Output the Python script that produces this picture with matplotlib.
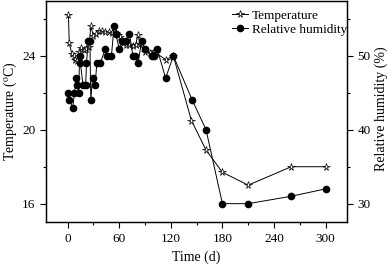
import matplotlib
matplotlib.use("Agg")
import matplotlib.pyplot as plt
from matplotlib.ticker import MultipleLocator

plt.rcParams['font.family'] = ['Liberation Serif', 'DejaVu Serif']
plt.rcParams['mathtext.fontset'] = 'stix'

# temperature (stars)
temp_day = [1, 2, 5, 7, 9, 11, 13, 16, 19, 22, 25, 27, 30, 33, 36, 40, 44, 48,
            52, 56, 59, 61, 65, 68, 72, 76, 79, 82, 84, 90, 96, 100, 103, 114,
            123, 144, 161, 180, 210, 260, 300]
temp_val = [26.2, 24.7, 24.1, 24.0, 23.8, 23.7, 24.2, 24.45, 24.3, 24.4, 24.5,
            25.6, 25.1, 25.2, 25.35, 25.35, 25.3, 25.3, 25.25, 25.25, 25.15,
            25.0, 24.7, 24.6, 24.6, 24.55, 24.6, 25.15, 24.65, 24.2, 24.15,
            24.25, 24.15, 23.8, 24.0, 20.5, 18.9, 17.7, 17.0, 18.0, 18.0]

# relative humidity (circles)
rh_day = [1, 2, 6, 8, 10, 11, 13, 14, 15, 18, 21, 22, 24, 26, 27, 29, 32, 34,
          38, 44, 46, 51, 54, 56, 60, 63, 68, 72, 76, 78, 82, 86, 90, 98, 100,
          104, 114, 123, 145, 161, 180, 210, 260, 300]
rh_val = [45.0, 44.0, 43.0, 45.0, 47.0, 46.0, 45.0, 50.0, 49.0, 46.0, 46.0,
          49.0, 52.0, 52.0, 44.0, 47.0, 46.0, 49.0, 49.0, 51.0, 50.0, 50.0,
          54.0, 53.0, 51.0, 52.0, 52.0, 53.0, 50.0, 50.0, 49.0, 52.0, 51.0,
          50.0, 50.0, 51.0, 47.0, 50.0, 44.0, 40.0, 30.0, 30.0, 31.0, 32.0]

fig = plt.figure(figsize=(3.87, 2.66), dpi=100)
ax = fig.add_axes([0.119, 0.165, 0.778, 0.833])
ax2 = ax.twinx()

l1, = ax.plot(temp_day, temp_val, color='black', lw=0.7, marker='*', ms=5.5,
              mfc='white', mec='black', mew=0.5, label='Temperature')
l2, = ax2.plot(rh_day, rh_val, color='black', lw=0.7, marker='o', ms=4.5,
               mfc='black', mec='black', label='Relative humidity')

ax.set_xlim(-25, 325)
ax.set_ylim(15, 27)
ax2.set_ylim(27.5, 57.5)

ax.xaxis.set_major_locator(MultipleLocator(60))
ax.xaxis.set_minor_locator(MultipleLocator(30))
ax.yaxis.set_major_locator(MultipleLocator(4))
ax.yaxis.set_minor_locator(MultipleLocator(2))
ax2.yaxis.set_major_locator(MultipleLocator(10))
ax2.yaxis.set_minor_locator(MultipleLocator(5))

for a in (ax, ax2):
    a.tick_params(which='both', direction='out', labelsize=9.5, width=0.8)
    a.tick_params(which='major', length=4)
    a.tick_params(which='minor', length=2.5)
    for s in a.spines.values():
        s.set_linewidth(0.9)
ax.tick_params(axis='y', right=False)

ax.set_xlabel('Time (d)', fontsize=10)
ax.set_ylabel('Temperature ($^{\\rm o}$C)', fontsize=10, labelpad=2)
ax2.set_ylabel('Relative humidity (%)', fontsize=10)
ax2.yaxis.set_label_coords(1.09, 0.51)

ax2.legend([l1, l2], ['Temperature', 'Relative humidity'], loc='upper right',
           frameon=False, fontsize=9.5, handlelength=1.2, handletextpad=0.3,
           labelspacing=0.1, borderaxespad=0.3, bbox_to_anchor=(1.03, 1.0))

fig.savefig('out.png', dpi=100)
